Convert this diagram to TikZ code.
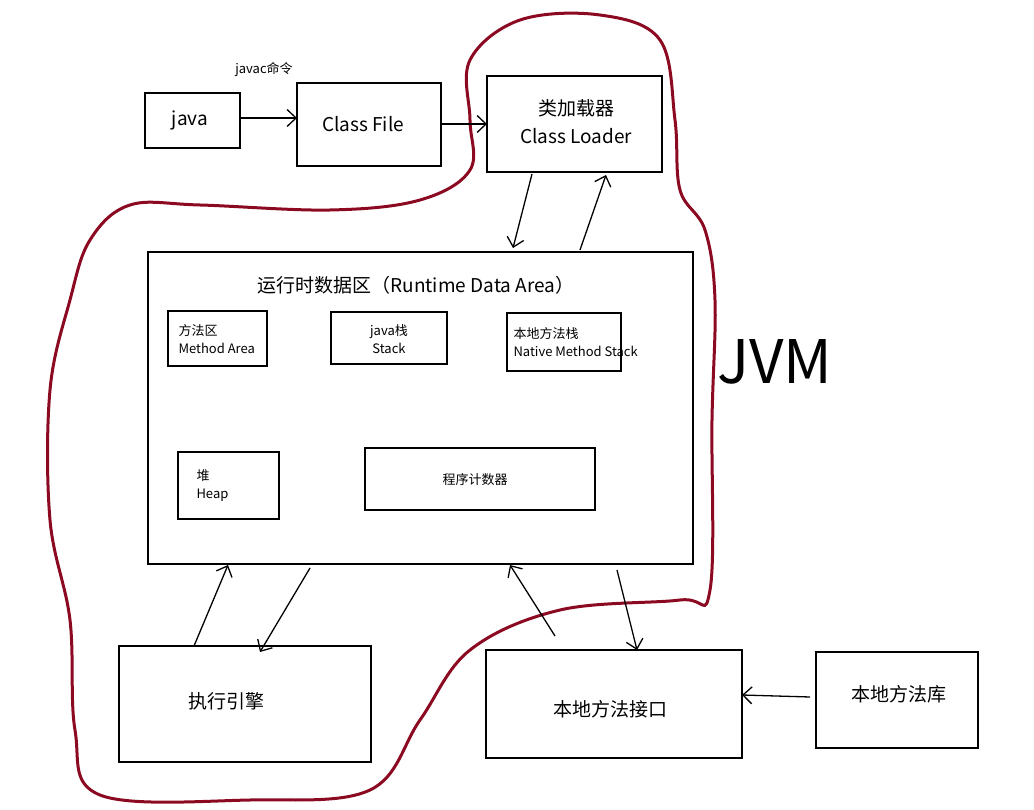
\documentclass[tikz,border=0pt]{standalone}
\usepackage{fontspec}
\setmainfont{Noto Sans CJK SC}
\usetikzlibrary{arrows.meta}
\begin{document}
\begin{tikzpicture}[x=1pt,y=-1pt,
 box/.style={draw,line width=1.3pt},
 arr/.style={line width=1.3pt,-{Straight Barb[length=9pt,width=17pt,line width=1.3pt]}},
 t/.style={font=\fontsize{19}{22}\selectfont},
 s/.style={font=\fontsize{13}{16}\selectfont,align=left,anchor=west}]
\useasboundingbox (0,0) rectangle (1034,810);
\definecolor{jvm}{HTML}{8B0A22}
\draw[jvm,line width=3pt] plot[smooth cycle,tension=0.6] coordinates{(470,60)(520,20)(600,15)(660,40)(675,120)(680,190)(705,230)(715,300)(712,420)(710,590)(680,600)(560,610)(470,650)(420,720)(370,790)(250,800)(100,795)(75,730)(70,620)(50,520)(50,390)(70,300)(90,240)(130,205)(200,205)(330,210)(420,200)(470,170)(470,120)};
\draw[box] (145,93) rectangle (240,148); \node[t] (java) at (190,120) {java};
\draw[box] (297,83) rectangle (441,166); \node[t] (cf) at (363,124) {Class File};
\node[font=\fontsize{13}{15}\selectfont] at (264,70) {javac命令};
\draw[box] (487,76) rectangle (662,172);
\node[t,align=center] (cl) at (576,122) {类加载器\\[6pt]Class Loader};
\draw[box] (148,252) rectangle (693,564);
\node[t] (rt) at (416,285) {运行时数据区（Runtime Data Area）};
\draw[box] (168,311) rectangle (267,366); \node[s] (ma) at (175,339) {方法区\\[2pt]Method Area};
\draw[box] (331,312) rectangle (447,364); \node[s,align=center,anchor=center] (js) at (389,339) {java栈\\[2pt]Stack};
\draw[box] (507,313) rectangle (621,371); \node[s] (nms) at (510,342) {本地方法栈\\[2pt]Native Method Stack};
\draw[box] (178,452) rectangle (279,519); \node[s] (hp) at (193,486) {堆\\[2pt]Heap};
\draw[box] (365,448) rectangle (595,510); \node[s,anchor=center] (pc) at (475,480) {程序计数器};
\draw[box] (119,646) rectangle (371,762); \node[t] (ee) at (226,701) {执行引擎};
\draw[box] (486,650) rectangle (742,758); \node[t] (ni) at (610,709) {本地方法接口};
\draw[box] (816,652) rectangle (978,748); \node[t] (nl) at (899,694) {本地方法库};
\node[font=\fontsize{60}{62}\selectfont] (jvmt) at (775,362) {JVM};
\coordinate (a1) at (240,118); \coordinate (a2) at (297,118);
\coordinate (b1) at (441,124); \coordinate (b2) at (487,124);
\coordinate (c1) at (532,174); \coordinate (c2) at (513,248);
\coordinate (d1) at (580,250); \coordinate (d2) at (606,175);
\coordinate (e1) at (310,568); \coordinate (e2) at (260,652);
\coordinate (f1) at (194,646); \coordinate (f2) at (228,565);
\coordinate (g1) at (617,570); \coordinate (g2) at (637,650);
\coordinate (h1) at (555,636); \coordinate (h2) at (510,565);
\coordinate (i1) at (810,697); \coordinate (i2) at (742,695);
\foreach \p/\q in {a1/a2,b1/b2,c1/c2,d1/d2,e1/e2,f1/f2,g1/g2,h1/h2,i1/i2} \draw[arr] (\p) -- (\q);
\end{tikzpicture}
\end{document}
